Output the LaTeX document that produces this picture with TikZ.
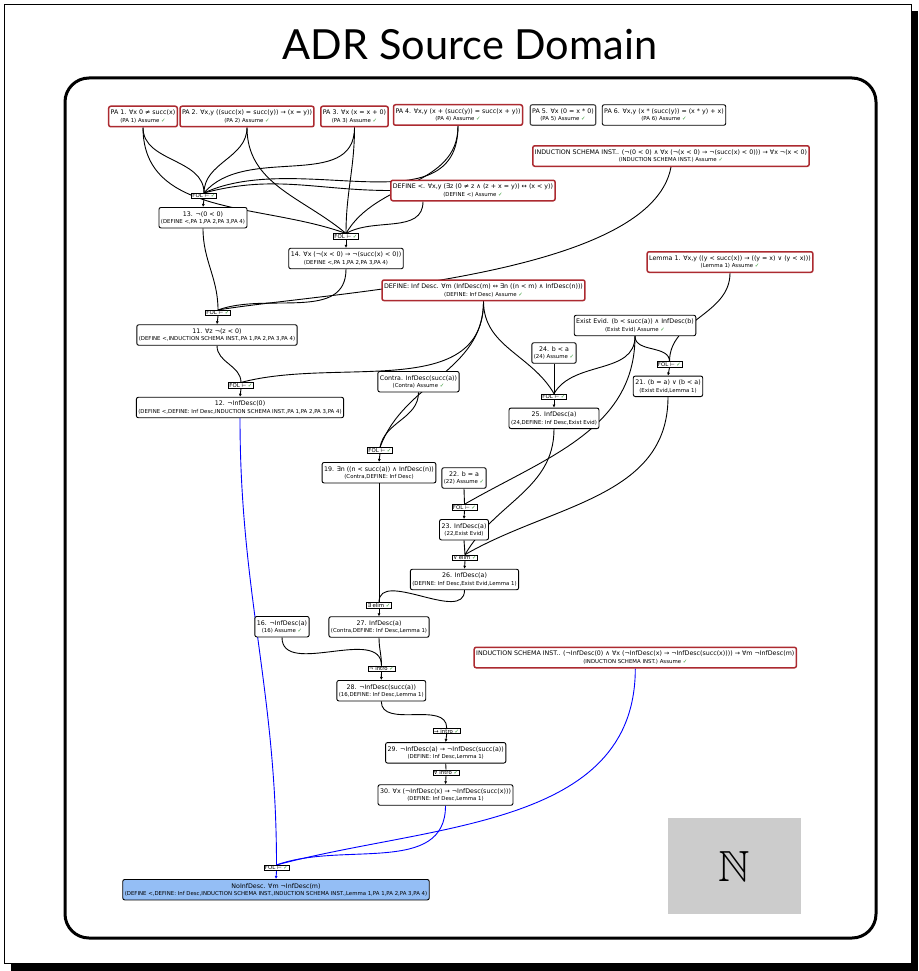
\documentclass[tikz,border=0pt]{standalone}
\usepackage{amssymb}
\usepackage{fontspec}
\setmainfont{DejaVu Sans}
\newfontfamily\titlefont{Lato}
\usetikzlibrary{arrows.meta}
\definecolor{axiomred}{RGB}{172,42,48}
\definecolor{okgreen}{RGB}{46,150,46}
\definecolor{goalblue}{RGB}{148,190,245}
\definecolor{panelgray}{RGB}{204,204,204}
\pgfdeclarelayer{background}
\pgfsetlayers{background,main}
\newcommand{\ok}{\textcolor{okgreen}{✓}}
\newcommand{\just}[1]{{\fontsize{5.4}{6}\selectfont #1}}

\begin{document}
\begin{tikzpicture}[x=1pt,y=1pt,
  stmt/.style={draw, line width=0.9pt, rounded corners=2pt, fill=white, align=center,
    inner xsep=2pt, inner ysep=1.2pt, minimum height=20.5pt, font=\fontsize{6.3}{7.4}\selectfont},
  axiom/.style={stmt, draw=axiomred, line width=1.5pt},
  rule/.style={draw, line width=0.8pt, fill=white, inner xsep=1pt, inner ysep=0.6pt, font=\fontsize{5.4}{5.6}\selectfont},
  ln/.style={line width=0.9pt},
  arr/.style={ln, -{Latex[length=3pt,width=3pt]}},
  cv/.style={out=-90,in=90}]
\useasboundingbox (0,0) rectangle (918,-971);

\node[font=\titlefont\fontsize{41.5}{42}\selectfont] (title) at (470,-45) {ADR Source Domain};

% premises
\node[axiom] (pa1) at (143,-116.5) {PA 1. ∀x 0 ≠ succ(x)\\\just{(PA 1) Assume \ok}};
\node[axiom] (pa2) at (247,-116.5) {PA 2. ∀x,y ((succ(x) = succ(y)) → (x = y))\\\just{(PA 2) Assume \ok}};
\node[axiom] (pa3) at (354.5,-116.5) {PA 3. ∀x (x = x + 0)\\\just{(PA 3) Assume \ok}};
\node[axiom] (pa4) at (458,-115) {PA 4. ∀x,y (x + (succ(y)) = succ(x + y))\\\just{(PA 4) Assume \ok}};
\node[stmt, draw=black!70, line width=1.2pt] (pa5) at (563,-115) {PA 5. ∀x (0 = x * 0)\\\just{(PA 5) Assume \ok}};
\node[stmt] (pa6) at (664,-115) {PA 6. ∀x,y (x * (succ(y)) = (x * y) + x)\\\just{(PA 6) Assume \ok}};
\node[axiom] (ind1) at (671,-156) {INDUCTION SCHEMA INST.. (¬(0 < 0) ∧ ∀x (¬(x < 0) → ¬(succ(x) < 0))) → ∀x ¬(x < 0)\\\just{(INDUCTION SCHEMA INST.) Assume \ok}};
\node[axiom] (defl) at (473,-190.5) {DEFINE <. ∀x,y (∃z (0 ≠ z ∧ (z + x = y)) ↔ (x < y))\\\just{(DEFINE <) Assume \ok}};
\node[axiom] (definf) at (483.5,-290.3) {DEFINE: Inf Desc. ∀m (InfDesc(m) ↔ ∃n ((n < m) ∧ InfDesc(n)))\\\just{(DEFINE: Inf Desc) Assume \ok}};
\node[axiom] (lem1) at (730,-262) {Lemma 1. ∀x,y ((y < succ(x)) → ((y = x) ∨ (y < x)))\\\just{(Lemma 1) Assume \ok}};
\node[stmt] (evid) at (635,-325.5) {Exist Evid. (b < succ(a)) ∧ InfDesc(b)\\\just{(Exist Evid) Assume \ok}};
\node[stmt] (n24) at (554,-353) {24. b < a\\\just{(24) Assume \ok}};
\node[stmt] (contra) at (418.5,-381.7) {Contra. InfDesc(succ(a))\\\just{(Contra) Assume \ok}};
\node[stmt] (n22) at (464,-478) {22. b = a\\\just{(22) Assume \ok}};
\node[stmt] (n16) at (282,-626.7) {16. ¬InfDesc(a)\\\just{(16) Assume \ok}};
\node[axiom] (ind2) at (635.3,-657.5) {INDUCTION SCHEMA INST.. (¬InfDesc(0) ∧ ∀x (¬InfDesc(x) → ¬InfDesc(succ(x)))) → ∀m ¬InfDesc(m)\\\just{(INDUCTION SCHEMA INST.) Assume \ok}};

% derived steps
\node[rule] (f13) at (204,-196) {FOL ⊢ \ok};
\node[stmt] (n13) at (203,-217.7) {13. ¬(0 < 0)\\\just{(DEFINE <,PA 1,PA 2,PA 3,PA 4)}};
\node[rule] (f14) at (346,-236.5) {FOL ⊢ \ok};
\node[stmt] (n14) at (346,-258.5) {14. ∀x (¬(x < 0) → ¬(succ(x) < 0))\\\just{(DEFINE <,PA 1,PA 2,PA 3,PA 4)}};
\node[rule] (f11) at (218,-313) {FOL ⊢ \ok};
\node[stmt] (n11) at (217,-335) {11. ∀z ¬(z < 0)\\\just{(DEFINE <,INDUCTION SCHEMA INST.,PA 1,PA 2,PA 3,PA 4)}};
\node[rule] (f12) at (241,-385.5) {FOL ⊢ \ok};
\node[stmt] (n12) at (240,-407.5) {12. ¬InfDesc(0)\\\just{(DEFINE <,DEFINE: Inf Desc,INDUCTION SCHEMA INST.,PA 1,PA 2,PA 3,PA 4)}};
\node[rule] (f21) at (669.5,-364.5) {FOL ⊢ \ok};
\node[stmt] (n21) at (668,-386.3) {21. (b = a) ∨ (b < a)\\\just{(Exist Evid,Lemma 1)}};
\node[rule] (f25) at (554,-396.7) {FOL ⊢ \ok};
\node[stmt] (n25) at (554,-418.3) {25. InfDesc(a)\\\just{(24,DEFINE: Inf Desc,Exist Evid)}};
\node[rule] (f19) at (380,-450.5) {FOL ⊢ \ok};
\node[stmt] (n19) at (379,-472.7) {19. ∃n ((n < succ(a)) ∧ InfDesc(n))\\\just{(Contra,DEFINE: Inf Desc)}};
\node[rule] (f23) at (464.5,-507.3) {FOL ⊢ \ok};
\node[stmt] (n23) at (464,-529.7) {23. InfDesc(a)\\\just{(22,Exist Evid)}};
\node[rule] (velim) at (465,-557.7) {∨ elim \ok};
\node[stmt] (n26) at (464.5,-579.5) {26. InfDesc(a)\\\just{(DEFINE: Inf Desc,Exist Evid,Lemma 1)}};
\node[rule] (eelim) at (379,-605.3) {∃ elim \ok};
\node[stmt] (n27) at (379,-627) {27. InfDesc(a)\\\just{(Contra,DEFINE: Inf Desc,Lemma 1)}};
\node[rule] (nintro) at (381.5,-668.8) {¬ intro \ok};
\node[stmt] (n28) at (381.3,-690.7) {28. ¬InfDesc(succ(a))\\\just{(16,DEFINE: Inf Desc,Lemma 1)}};
\node[rule] (iintro) at (446.7,-731) {→ intro \ok};
\node[stmt] (n29) at (445.7,-752.8) {29. ¬InfDesc(a) → ¬InfDesc(succ(a))\\\just{(DEFINE: Inf Desc,Lemma 1)}};
\node[rule] (aintro) at (446,-772.7) {∀ intro \ok};
\node[stmt] (n30) at (445.5,-795) {30. ∀x (¬InfDesc(x) → ¬InfDesc(succ(x)))\\\just{(DEFINE: Inf Desc,Lemma 1)}};
\node[rule] (ffin) at (276.5,-868) {FOL ⊢ \ok};
\node[stmt, fill=goalblue] (goal) at (276,-889.7) {NoInfDesc. ∀m ¬InfDesc(m)\\\just{(DEFINE <,DEFINE: Inf Desc,INDUCTION SCHEMA INST.,INDUCTION SCHEMA INST.,Lemma 1,PA 1,PA 2,PA 3,PA 4)}};

\node[fill=panelgray, minimum width=133pt, minimum height=96pt] (nat) at (734.5,-866) {\scalebox{1.75}{\fontsize{24.88}{25}\selectfont$\mathbb{N}$}};

\begin{pgfonlayer}{background}
\fill (11,-11) rectangle (918,-971);
\draw[fill=white, line width=0.8pt] (4,-4) rectangle (911,-963);
\draw[line width=3pt, rounded corners=24pt] (65,-78) rectangle (876,-938);
% into 13
\draw[ln] (pa1.south) to[cv] (f13.north);
\draw[ln] (pa2.south) to[cv] (f13.north);
\draw[ln] (pa3.south) to[out=-90,in=50] (f13.north);
\draw[ln] (pa4.south) to[out=-90,in=25] (f13.north);
\draw[ln] (defl.west) to[out=180,in=15] (f13.north);
% into 14
\draw[ln] (pa1.south) to[out=-90,in=160] (f14.north);
\draw[ln] (pa2.south) to[out=-90,in=140] (f14.north);
\draw[ln] (pa3.south) to[cv] (f14.north);
\draw[ln] (pa4.south) to[out=-90,in=60] (f14.north);
\draw[ln] ([xshift=-50pt]defl.south) to[out=-90,in=30] (f14.north);
% into 11, 12
\draw[ln] (n13.south) to[cv] (f11.north);
\draw[ln] (n14.south) to[out=-90,in=20] (f11.north);
\draw[ln] (ind1.south) .. controls +(-20,-110) and +(110,18) .. (f11.north);
\draw[ln] (n11.south) to[cv] (f12.north);
\draw[ln] (definf.south) to[out=-90,in=15] (f12.north);
% right part
\draw[ln] (contra.south) to[out=-90,in=80] (f19.north);
\draw[ln] (definf.south) to[out=-90,in=70] (f19.north);
\draw[ln] (definf.south) to[out=-90,in=120] (f25.north);
\draw[ln] (n24.south) -- (f25.north);
\draw[ln] (evid.south) to[out=-90,in=60] (f25.north);
\draw[ln] (evid.south) to[cv] (f21.north);
\draw[ln] (lem1.south) to[cv] (f21.north);
\draw[ln] (n22.south) -- (f23.north);
\draw[ln] (evid.south) to[out=-90,in=30] (f23.north);
\draw[ln] (n23.south) -- (velim.north);
\draw[ln] (n25.south) to[out=-90,in=60] (velim.north);
\draw[ln] (n21.south) to[out=-90,in=30] (velim.north);
\draw[ln] (n19.south) -- (eelim.north);
\draw[ln] (n26.south) to[cv] (eelim.north);
\draw[ln] (n27.south) to[cv] (nintro.north);
\draw[ln] (n16.south) to[cv] (nintro.north);
\draw[ln] (n28.south) to[cv] (iintro.north);
\draw[ln] (n29.south) -- (aintro.north);
% into the goal
\draw[ln, blue] (n12.south) to[cv] (ffin.north);
\draw[ln, blue] (n30.south) to[out=-90,in=20] (ffin.north);
\draw[ln, blue] (ind2.south) to[out=-90,in=15] (ffin.north);
% rule boxes to their steps
\foreach \r/\s in {f13/n13, f14/n14, f11/n11, f12/n12, f21/n21, f25/n25, f19/n19, f23/n23,
  velim/n26, eelim/n27, nintro/n28, iintro/n29, aintro/n30}
  \draw[arr] (\r.south) -- (\s.north);
\draw[arr, blue] (ffin.south) -- (goal.north);
\end{pgfonlayer}
\end{tikzpicture}
\end{document}
